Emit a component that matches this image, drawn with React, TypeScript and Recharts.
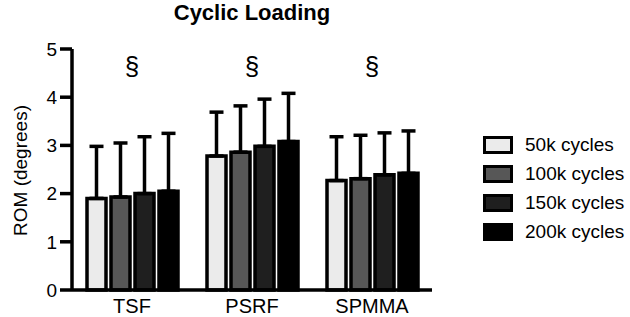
import React from 'react';
import { BarChart, Bar, XAxis, YAxis, ErrorBar, ReferenceDot } from 'recharts';

// Range of motion under cyclic loading, mean with upper SD
const categories = ['TSF', 'PSRF', 'SPMMA'];
const seriesNames = ['50k cycles', '100k cycles', '150k cycles', '200k cycles'];

const mean50k = [1.9, 2.78, 2.27];
const mean100k = [1.93, 2.86, 2.31];
const mean150k = [2.0, 2.98, 2.39];
const mean200k = [2.05, 3.08, 2.42];

const sd50k = [1.08, 0.91, 0.91];
const sd100k = [1.12, 0.96, 0.9];
const sd150k = [1.18, 0.98, 0.87];
const sd200k = [1.2, 1.0, 0.88];

const significance = ['§', '§', '§'];
const yTicks = [0, 1, 2, 3, 4, 5];

const FONT = '"Liberation Sans", Arial, Helvetica, sans-serif';
const fills = ['#ebebeb', '#575757', '#1f1f1f', '#000000'];
const keys = ['c50', 'c100', 'c150', 'c200'];

const means = [mean50k, mean100k, mean150k, mean200k];
const sds = [sd50k, sd100k, sd150k, sd200k];

const data = categories.map((name, i) => {
  const row: Record<string, any> = { name };
  keys.forEach((k, s) => {
    row[k] = means[s][i];
    row[k + 'err'] = [0, sds[s][i]];
  });
  return row;
});

const YLabel = (props: any) => {
  const vb = props.viewBox || { x: 0, y: 49, width: 72, height: 241 };
  const cx = vb.x + 20;
  const cy = vb.y + vb.height / 2 + 1;
  return (
    <text
      x={cx}
      y={cy}
      transform={`rotate(-90 ${cx} ${cy})`}
      textAnchor="middle"
      dominantBaseline="central"
      fontFamily={FONT}
      fontSize={19}
      fill="#000"
    >
      ROM (degrees)
    </text>
  );
};

export default function App() {
  return (
    <div style={{ position: 'absolute', left: 0, top: 0, width: 630, height: 317, background: '#fff', fontFamily: FONT }}>
      <div
        style={{
          position: 'absolute',
          left: 0,
          width: 504,
          top: 0,
          textAlign: 'center',
          fontSize: 22,
          fontWeight: 'bold',
          lineHeight: '26px',
          color: '#000',
        }}
      >
        Cyclic Loading
      </div>
      <BarChart
        width={630}
        height={317}
        data={data}
        margin={{ top: 49, right: 198, bottom: 0, left: 0 }}
        barSize={19}
        barGap={5}
      >
        <XAxis
          dataKey="name"
          type="category"
          height={27}
          stroke="#000"
          strokeWidth={3.5}
          axisLine={{ stroke: '#000', strokeWidth: 3.5 }}
          tickLine={false}
          tickSize={5}
          tickMargin={4}
          tick={{ fill: '#000', fontSize: 20, fontFamily: FONT, strokeWidth: 0 }}
        />
        <YAxis
          width={72}
          domain={[0, 5]}
          ticks={yTicks}
          interval={0}
          stroke="#000"
          strokeWidth={3.5}
          axisLine={{ stroke: '#000', strokeWidth: 3.5 }}
          tickLine={{ stroke: '#000', strokeWidth: 3.5 }}
          tickSize={12}
          tickMargin={3}
          tick={{ fill: '#000', fontSize: 19, fontFamily: FONT, strokeWidth: 0 }}
          label={<YLabel />}
        />
        {keys.map((k, s) => (
          <Bar
            key={k}
            dataKey={k}
            name={seriesNames[s]}
            fill={fills[s]}
            stroke="#000"
            strokeWidth={3.5}
            isAnimationActive={false}
          >
            <ErrorBar dataKey={k + 'err'} direction="y" width={7} stroke="#000" strokeWidth={3.5} />
          </Bar>
        ))}
        {categories.map((c, i) => (
          <ReferenceDot
            key={c}
            x={c}
            y={4.65}
            r={0}
            fill="none"
            stroke="none"
            label={{ value: significance[i], position: 'center', fontSize: 26, fill: '#000', fontFamily: FONT }}
          />
        ))}
      </BarChart>
      <div style={{ position: 'absolute', left: 483, top: 130 }}>
        {seriesNames.map((n, s) => (
          <div key={n} style={{ display: 'flex', alignItems: 'center', height: 29 }}>
            <div
              style={{
                width: 30,
                height: 18,
                boxSizing: 'border-box',
                border: '3px solid #000',
                background: fills[s],
              }}
            />
            <span style={{ marginLeft: 12, fontSize: 19, color: '#000', lineHeight: '19px' }}>{n}</span>
          </div>
        ))}
      </div>
    </div>
  );
}
